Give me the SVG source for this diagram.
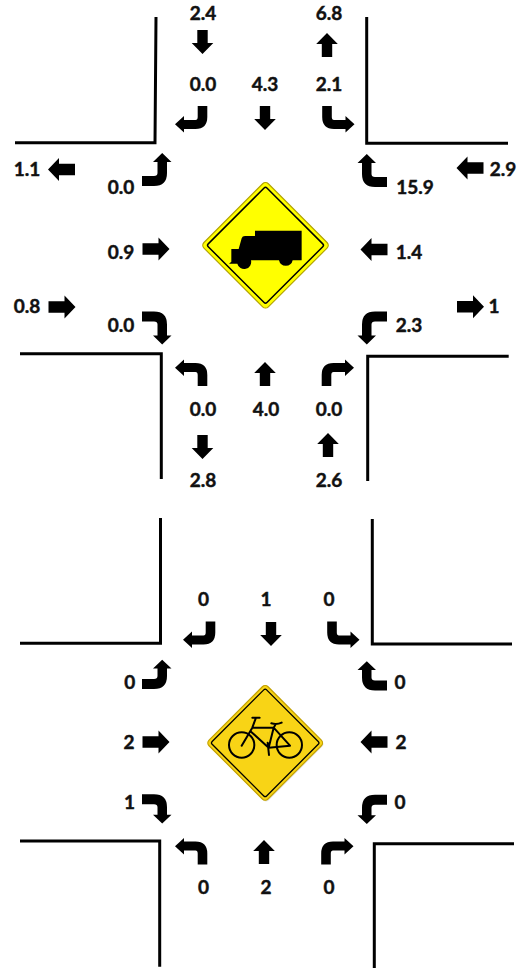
<svg xmlns="http://www.w3.org/2000/svg" width="528" height="971" viewBox="0 0 528 971">
<style>
text{font-family:"Lato","Open Sans","Liberation Sans",sans-serif;font-weight:700;font-size:19px;fill:#111;stroke:#111;stroke-width:.45px;text-anchor:middle}
.road{fill:none;stroke:#000;stroke-width:3}
.bk{fill:none;stroke:#000;stroke-width:6;stroke-linecap:round;stroke-linejoin:round}
</style>
<defs>
<path id="v" d="M-5.2 -12H5.2V1H10.8L0 12L-10.8 1H-5.2Z"/>
<path id="h" d="M-13.5 -5.7H2.5V-11.5L13.5 0L2.5 11.5V5.7H-13.5Z"/>
<path id="t" d="M-4.8 0H4.8V11Q4.8 22.9 -7 22.9H-18.5V26.5L-27.5 18.3L-18.5 10V14H-7Q-4.8 14 -4.8 11Z"/>
<path id="s" d="M-5 0H5V12Q5 25 -8 25H-19V29.5L-28 20.2L-19 11V15.5H-8Q-5 15.5 -5 12Z"/>
<path id="q" d="M-5 0H5V12Q5 25 -8 25H-15.5V29.5L-24.3 20.2L-15.5 11V15.5H-8Q-5 15.5 -5 12Z"/>
</defs>
<g id="roads-top">
<path class="road" d="M156 17L155 142.7H15"/>
<path class="road" d="M366.7 17V143.3H508"/>
<path class="road" d="M20 353.7H161.3V479"/>
<path class="road" d="M367.7 481V356.2H508.7"/>
</g>
<g id="roads-bottom">
<path class="road" d="M160.5 518V643.3H20"/>
<path class="road" d="M372.3 519V644H512"/>
<path class="road" d="M20 841H159.7V966.7"/>
<path class="road" d="M374.3 968V843.7H514"/>
</g>
<g id="sign-truck">
<rect x="-45.5" y="-45.5" width="91" height="91" rx="4" transform="translate(265.5 245.3) rotate(45)" fill="#ffff00" stroke="#b3a400" stroke-width="1.2"/>
<rect x="-41.5" y="-41.5" width="83" height="83" rx="2" transform="translate(265.5 245.3) rotate(45)" fill="none" stroke="#000" stroke-width="1.5"/>
<path transform="translate(190 170) scale(.3333)" d="M195 182H335V271H308A21 21 0 0 1 267 271H183A21 21 0 0 1 142 281H117L124 275V237H146L155 205Q157 198 165 198H195Z"/>
</g>
<g id="sign-bike">
<rect x="-41.7" y="-41.7" width="83.4" height="83.4" rx="4" transform="translate(266 744) rotate(45)" fill="#e6e6e6"/>
<rect x="-41.7" y="-41.7" width="83.4" height="83.4" rx="4" transform="translate(265.2 742.9) rotate(45)" fill="#f8d416" stroke="#c2a000" stroke-width="1.2"/>
<rect x="-38.5" y="-38.5" width="77" height="77" rx="2" transform="translate(265.2 742.9) rotate(45)" fill="none" stroke="#000" stroke-width="1.3"/>
<g transform="translate(195 675) scale(.3333)">
<circle class="bk" cx="140" cy="210" r="38"/>
<circle class="bk" cx="283" cy="210" r="38"/>
<path class="bk" d="M172 128H194M183 128L172 158L140 212M172 158H236L221 218L168 170M236 158L285 212L221 218M229 145Q245 150 260 143M242 148L236 158M218 203L222 240"/>
</g>
</g>
<g id="arrows-labels-top">
<g id="n-out"><use href="#v" x="202.5" y="42"/><text x="203" y="20">2.4</text></g>
<g id="n-left"><use href="#t" transform="translate(202.5 106)"/><text x="203" y="91">0.0</text></g>
<g id="n-thru"><use href="#v" x="265" y="118"/><text x="265" y="91">4.3</text></g>
<g id="n-right"><use href="#t" transform="translate(327 106) scale(-1 1)"/><text x="329" y="91">2.1</text></g>
<g id="n-in"><use href="#v" transform="translate(327 45) rotate(180)"/><text x="329" y="20">6.8</text></g>
<g id="w-out"><use href="#h" transform="translate(61.5 169.5) rotate(180)"/><text x="27" y="175.7">1.1</text></g>
<g id="e-in"><use href="#h" transform="translate(470 168) rotate(180)"/><text x="503" y="175.7">2.9</text></g>
<g id="wb-left"><use href="#s" transform="translate(142 181) rotate(-90) scale(-1 1)"/><text x="121" y="194">0.0</text></g>
<g id="eb-right"><use href="#s" transform="translate(387 182) rotate(90)"/><text x="415" y="194">15.9</text></g>
<g id="wb-thru"><use href="#h" x="156" y="249"/><text x="121" y="259">0.9</text></g>
<g id="eb-thru"><use href="#h" transform="translate(374 249.5) rotate(180)"/><text x="409" y="259">1.4</text></g>
<g id="w-in"><use href="#h" x="62" y="307"/><text x="27" y="313">0.8</text></g>
<g id="e-out"><use href="#h" x="470.5" y="306.7"/><text x="494" y="313">1</text></g>
<g id="wb-turn"><use href="#s" transform="translate(142 316.5) rotate(-90)"/><text x="121" y="332">0.0</text></g>
<g id="eb-turn"><use href="#s" transform="translate(387 316.5) rotate(90) scale(-1 1)"/><text x="409" y="332">2.3</text></g>
<g id="s-left"><use href="#t" transform="translate(202.5 386) scale(1 -1)"/><text x="203" y="416">0.0</text></g>
<g id="s-thru"><use href="#v" transform="translate(265 374) rotate(180)"/><text x="266" y="416">4.0</text></g>
<g id="s-right"><use href="#t" transform="translate(326.5 386) scale(-1 -1)"/><text x="329" y="416">0.0</text></g>
<g id="s-out"><use href="#v" x="202.5" y="447"/><text x="203" y="487.3">2.8</text></g>
<g id="s-in"><use href="#v" transform="translate(328 445) rotate(180)"/><text x="329" y="487.3">2.6</text></g>
</g>
<g id="arrows-labels-bottom">
<g id="bn-left"><use href="#t" transform="translate(210.5 621.5)"/><text x="203.5" y="606">0</text></g>
<g id="bn-thru"><use href="#v" x="271" y="634"/><text x="266" y="606">1</text></g>
<g id="bn-right"><use href="#t" transform="translate(332 621.5) scale(-1 1)"/><text x="329" y="606">0</text></g>
<g id="bw-left"><use href="#q" transform="translate(142 684) rotate(-90) scale(-1 1)"/><text x="129.7" y="689">0</text></g>
<g id="be-right"><use href="#q" transform="translate(387 685.5) rotate(90)"/><text x="400" y="689">0</text></g>
<g id="bw-thru"><use href="#h" x="156" y="742"/><text x="129" y="749">2</text></g>
<g id="be-thru"><use href="#h" transform="translate(374 742) rotate(180)"/><text x="401" y="749">2</text></g>
<g id="bw-turn"><use href="#q" transform="translate(142 799.3) rotate(-90)"/><text x="129.5" y="808.7">1</text></g>
<g id="be-turn"><use href="#q" transform="translate(387 799.7) rotate(90) scale(-1 1)"/><text x="400" y="808.7">0</text></g>
<g id="bs-left"><use href="#t" transform="translate(202.5 864.5) scale(1 -1)"/><text x="203.5" y="893.7">0</text></g>
<g id="bs-thru"><use href="#v" transform="translate(264 852) rotate(180)"/><text x="266" y="893.7">2</text></g>
<g id="bs-right"><use href="#t" transform="translate(326 864.5) scale(-1 -1)"/><text x="329" y="893.7">0</text></g>
</g>
</svg>
